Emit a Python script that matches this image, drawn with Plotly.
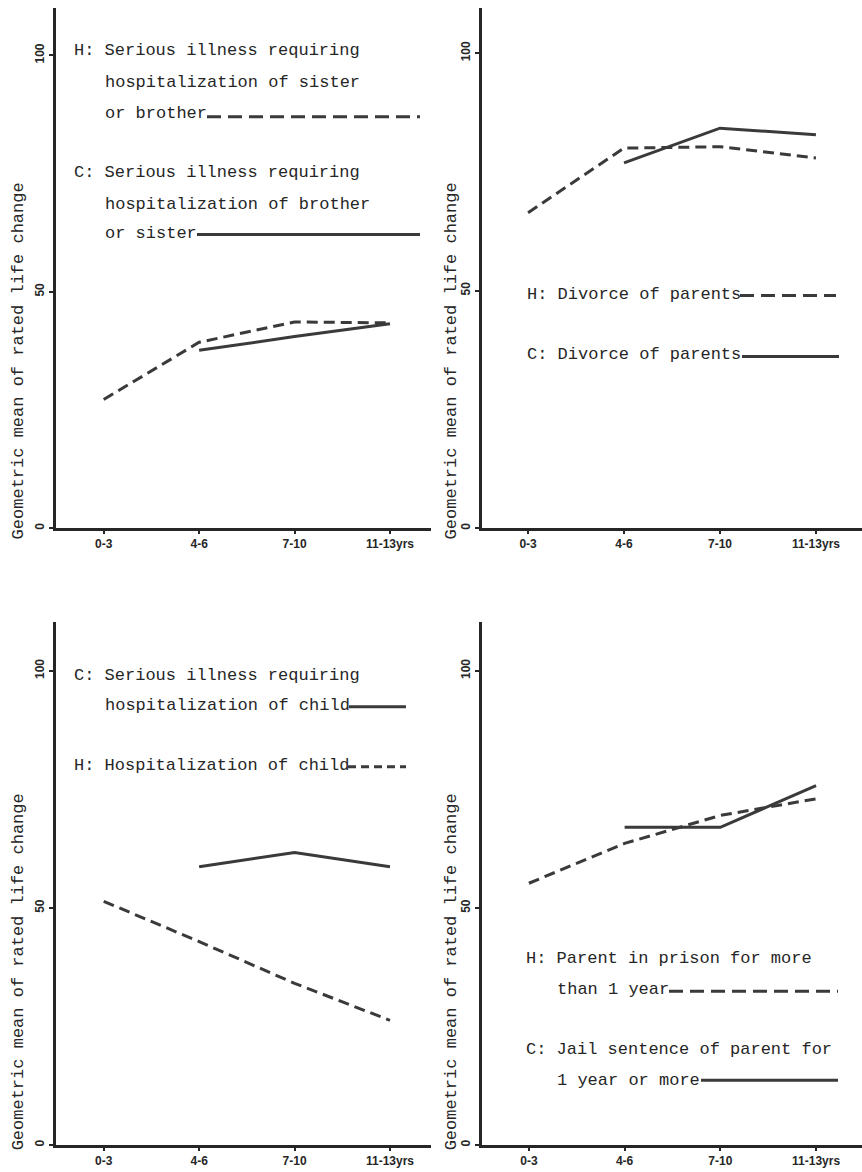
import plotly.graph_objects as go

W, H = 862, 1172

# ---------------- data ----------------
ages = ["0-3", "4-6", "7-10", "11-13yrs"]
age_idx = [0, 1, 2, 3]

sibling_H = [27.2, 39.3, 43.6, 43.4]
sibling_C = [None, 37.6, 40.5, 43.2]
divorce_H = [66.4, 80.0, 80.3, 77.9]
divorce_C = [None, 76.9, 84.2, 82.8]
child_C = [None, 58.7, 61.7, 58.7]
child_H = [51.4, 42.9, 34.1, 26.3]
prison_H = [55.2, 63.6, 69.5, 73.0]
prison_C = [None, 67.0, 67.0, 75.8]

y_ticks = [0, 50, 100]
y_title = "Geometric mean of rated life change"

# ---------------- styling / layout ----------------
INK = "#262626"
LINE = "#3a3a3a"
MONO = "Liberation Mono"
HAND = "Liberation Sans"
TXT = 17


def px(x):
    return x / W


def py(y):
    return 1 - y / H


panels = [
    dict(l=56, r=431, t=8, b=529, xr=[-0.5, 3.43], yr=[0, 110.0],
         series=[(sibling_H, "dash"), (sibling_C, "solid")], title=(18, 362)),
    dict(l=482, r=862, t=8, b=529, xr=[-0.48, 3.48], yr=[0, 109.5],
         series=[(divorce_H, "dash"), (divorce_C, "solid")], title=(451, 362)),
    dict(l=56, r=431, t=623, b=1147, xr=[-0.5, 3.43], yr=[0, 110.3],
         series=[(child_C, "solid"), (child_H, "dash")], title=(18, 974)),
    dict(l=482, r=862, t=623, b=1147, xr=[-0.49, 3.48], yr=[0, 110.3],
         series=[(prison_H, "dash"), (prison_C, "solid")], title=(451, 974)),
]

fig = go.Figure()
layout = dict(
    width=W, height=H,
    margin=dict(l=0, r=0, t=0, b=0),
    paper_bgcolor="white", plot_bgcolor="white",
    showlegend=False,
)
annotations = []
shapes = []

for i, p in enumerate(panels, start=1):
    xa = "xaxis" if i == 1 else f"xaxis{i}"
    ya = "yaxis" if i == 1 else f"yaxis{i}"
    xr = "x" if i == 1 else f"x{i}"
    yr = "y" if i == 1 else f"y{i}"
    layout[xa] = dict(
        domain=[px(p["l"]), px(p["r"])], range=p["xr"], anchor=yr,
        tickvals=age_idx, ticktext=[f"<b>{a}</b>" for a in ages],
        tickfont=dict(family=HAND, size=12, color=INK),
        ticks="outside", ticklen=3, tickwidth=1.5, tickcolor=INK,
        showline=True, linewidth=3, linecolor=INK,
        showgrid=False, zeroline=False, fixedrange=True,
    )
    layout[ya] = dict(
        domain=[py(p["b"]), py(p["t"])], range=p["yr"], anchor=xr,
        tickvals=y_ticks, ticktext=[f"<b>{v}</b>" for v in y_ticks],
        tickangle=-90,
        tickfont=dict(family=HAND, size=12, color=INK),
        ticks="outside", ticklen=4, tickwidth=1.5, tickcolor=INK,
        showline=True, linewidth=3, linecolor=INK,
        showgrid=False, zeroline=False, fixedrange=True,
    )
    for vals, style in p["series"]:
        fig.add_trace(go.Scatter(
            x=age_idx, y=vals, mode="lines", xaxis=xr, yaxis=yr,
            connectgaps=False, hoverinfo="skip",
            line=dict(color=LINE, width=3,
                      dash="11px,6px" if style == "dash" else "solid"),
        ))
    tx, ty = p["title"]
    annotations.append(dict(
        text=y_title, xref="paper", yref="paper", x=px(tx), y=py(ty),
        xanchor="center", yanchor="middle", textangle=-90, showarrow=False,
        font=dict(family=MONO, size=TXT, color=INK),
    ))

# legend-like labels drawn inside the panels
labels = [
    (72, 51, "H: Serious illness requiring"),
    (103, 83, "hospitalization of sister"),
    (103, 114, "or brother"),
    (72, 173, "C: Serious illness requiring"),
    (103, 205, "hospitalization of brother"),
    (103, 234, "or sister"),
    (525, 295, "H: Divorce of parents"),
    (525, 355, "C: Divorce of parents"),
    (72, 677, "C: Serious illness requiring"),
    (103, 707, "hospitalization of child"),
    (72, 767, "H: Hospitalization of child"),
    (524, 960, "H: Parent in prison for more"),
    (555, 991, "than 1 year"),
    (524, 1051, "C: Jail sentence of parent for"),
    (555, 1082, "1 year or more"),
]
for x, y, t in labels:
    annotations.append(dict(
        text=t, xref="paper", yref="paper", x=px(x), y=py(y),
        xanchor="left", yanchor="middle", showarrow=False,
        font=dict(family=MONO, size=TXT, color=INK),
    ))

keys = [
    (207, 420, 117, "14px,7px"),
    (197, 420, 235, "solid"),
    (740, 836, 296, "14px,7px"),
    (742, 839, 357, "solid"),
    (349, 406, 708, "solid"),
    (348, 406, 768, "8px,5px"),
    (669, 838, 993, "14px,7px"),
    (701, 838, 1082, "solid"),
]
for x0, x1, y, d in keys:
    shapes.append(dict(
        type="line", xref="paper", yref="paper",
        x0=px(x0), x1=px(x1), y0=py(y), y1=py(y),
        line=dict(color=LINE, width=3, dash=d),
    ))

layout["annotations"] = annotations
layout["shapes"] = shapes
fig.update_layout(**layout)
fig.write_html("out.html")
